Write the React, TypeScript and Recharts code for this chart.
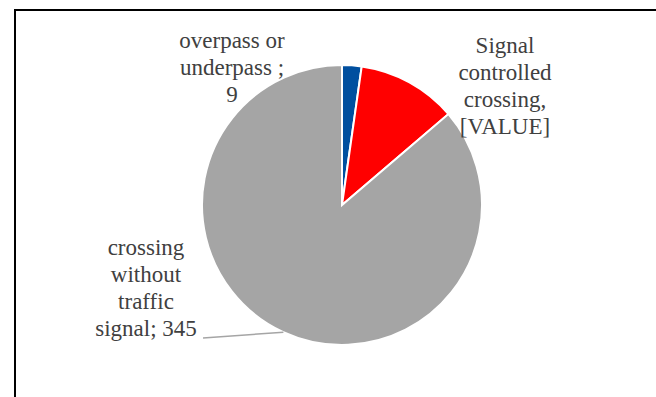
import { PieChart, Pie, Cell } from 'recharts';

// slice data
const categories = ['overpass or underpass', 'Signal controlled crossing', 'crossing without traffic signal'];
const values = [9, 46, 345];
const labelLines = [
  ['overpass or', 'underpass ;', '9'],
  ['Signal', 'controlled', 'crossing,', '[VALUE]'],
  ['crossing', 'without', 'traffic', 'signal; 345'],
];
const colors = ['#004F9F', '#FF0000', '#A5A5A5'];

// pie geometry
const CX = 342;
const CY = 205;
const R = 140;
const START = 90;

// label anchors relative to pie centre (x = text centre, y = first baseline)
const labelOffsets = [
  { dx: -110, dy: -157 },
  { dx: 163, dy: -152 },
  { dx: -196, dy: 50 },
];

const RAD = Math.PI / 180;
const LINE_H = 27;
const FONT_SIZE = 23;
const BASELINE = 21; // baseline offset inside a 27px line box
const SERIF = "'Liberation Serif', 'Times New Roman', Tinos";

const data = categories.map((name, i) => ({ name, value: values[i] }));
const total = values.reduce((a, b) => a + b, 0);

const midAngleOf = (i: number) => {
  const before = values.slice(0, i).reduce((a, b) => a + b, 0);
  return START - ((before + values[i] / 2) / total) * 360;
};

function LeaderLine() {
  const index = 2;
  const off = labelOffsets[index];
  const x = CX + off.dx;
  const y0 = CY + off.dy;
  const mid = midAngleOf(index);
  const ex = CX + R * Math.cos(-mid * RAD);
  const ey = CY + R * Math.sin(-mid * RAD);
  const sx = x + 57;
  const sy = y0 + LINE_H * (labelLines[index].length - 1) + 2;
  return (
    <svg width={656} height={397} style={{ position: 'absolute', left: 0, top: 0 }}>
      <line x1={sx} y1={sy} x2={ex} y2={ey} stroke="#A5A5A5" strokeWidth={1.5} />
    </svg>
  );
}

function Labels() {
  return (
    <>
      {labelLines.map((lines, index) => {
        const off = labelOffsets[index];
        const x = CX + off.dx;
        const y0 = CY + off.dy;
        return (
          <div
            key={index}
            style={{
              position: 'absolute',
              left: x - 100,
              top: y0 - BASELINE,
              width: 200,
              textAlign: 'center',
              fontFamily: SERIF,
              fontSize: FONT_SIZE,
              lineHeight: `${LINE_H}px`,
              color: '#404040',
              whiteSpace: 'nowrap',
            }}
          >
            {lines.map((l, i) => (
              <div key={i}>{l}</div>
            ))}
          </div>
        );
      })}
    </>
  );
}

export default function App() {
  return (
    <div
      style={{
        position: 'absolute',
        left: 0,
        top: 0,
        width: 656,
        height: 397,
        background: '#fff',
        overflow: 'hidden',
      }}
    >
      <div
        style={{
          position: 'absolute',
          left: 14,
          top: 9,
          width: 700,
          height: 450,
          borderTop: '2px solid #000',
          borderLeft: '2px solid #000',
          boxSizing: 'border-box',
        }}
      />
      <div style={{ position: 'absolute', left: 0, top: 0 }}>
        <PieChart width={656} height={397} margin={{ top: 0, right: 0, bottom: 0, left: 0 }}>
          <Pie
            data={data}
            dataKey="value"
            nameKey="name"
            cx={CX}
            cy={CY}
            outerRadius={R}
            startAngle={START}
            endAngle={START - 360}
            stroke="#fff"
            strokeWidth={2}
            label={false}
            labelLine={false}
            isAnimationActive={false}
          >
            {data.map((d, i) => (
              <Cell key={d.name} fill={colors[i]} />
            ))}
          </Pie>
        </PieChart>
      </div>
      <LeaderLine />
      <Labels />
    </div>
  );
}
